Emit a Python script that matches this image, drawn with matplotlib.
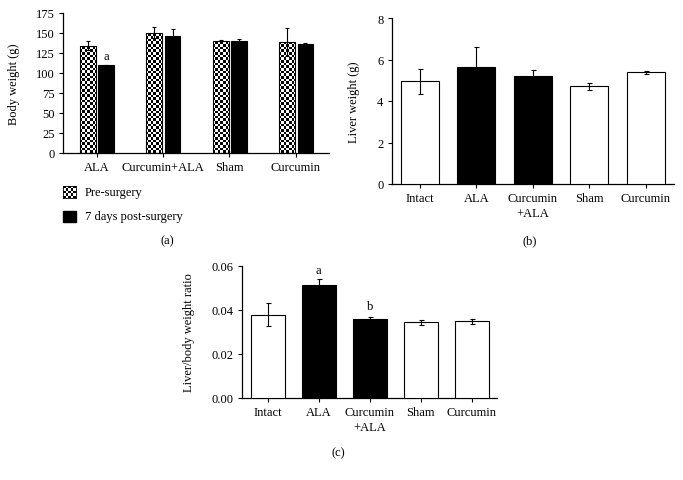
import numpy as np
import matplotlib
matplotlib.use('Agg')
import matplotlib.pyplot as plt
from matplotlib.patches import Rectangle

plt.rcParams['font.family'] = ['Liberation Serif', 'DejaVu Serif']
plt.rcParams['font.size'] = 9

# panel (a): body weight before / after surgery
groups_a = ['ALA', 'Curcumin+ALA', 'Sham', 'Curcumin']
pre_mean = [134, 150.5, 140.5, 139]
pre_err = [5.5, 6.5, 1, 17.5]
post_mean = [109.5, 146, 140, 136]
post_err = [1, 8.5, 3, 1.5]

# panel (b): liver weight
groups_bc = ['Intact', 'ALA', 'Curcumin\n+ALA', 'Sham', 'Curcumin']
liver_mean = [4.95, 5.65, 5.19, 4.71, 5.38]
liver_err = [0.59, 0.97, 0.29, 0.16, 0.08]

# panel (c): liver/body weight ratio
ratio_mean = [0.0378, 0.0513, 0.0357, 0.0343, 0.0348]
ratio_err = [0.0053, 0.0025, 0.001, 0.0013, 0.0011]

bar_colors = ['white', 'black', 'black', 'white', 'white']

W, H = 683, 481
fig = plt.figure(figsize=(W / 100, H / 100), dpi=100)


def px_axes(left, top, right, bottom):
    return fig.add_axes([left / W, 1 - bottom / H, (right - left) / W, (bottom - top) / H])


def style_axes(ax):
    for s in ['top', 'right']:
        ax.spines[s].set_visible(False)
    for s in ['left', 'bottom']:
        ax.spines[s].set_linewidth(0.9)
    ax.tick_params(axis='both', direction='out', length=3, width=0.8, pad=3)


def checker(nx, ny):
    return np.indices((ny, nx)).sum(axis=0) % 2


# ---------- (a)
ax_a = px_axes(63.3, 14, 329, 154)
style_axes(ax_a)
x = np.arange(len(groups_a))
bw = 0.235
pre_bars = ax_a.bar(x - 0.13, pre_mean, bw, facecolor='none', edgecolor='black', linewidth=0.8, zorder=3)
ax_a.bar(x + 0.145, post_mean, bw, color='black', edgecolor='black', linewidth=0.8, zorder=3)
ax_a.errorbar(x - 0.13, pre_mean, yerr=pre_err, fmt='none', ecolor='black', elinewidth=0.8, capsize=1.5, capthick=0.8, zorder=4)
ax_a.errorbar(x + 0.145, post_mean, yerr=post_err, fmt='none', ecolor='black', elinewidth=0.8, capsize=1.5, capthick=0.8, zorder=4)
ax_a.set_xlim(-0.5, 3.5)
ax_a.set_ylim(0, 175)
ax_a.set_yticks(range(0, 176, 25))
ax_a.set_xticks(x)
ax_a.set_xticklabels(groups_a)
ax_a.set_ylabel('Body weight (g)', fontsize=9)
ax_a.yaxis.set_label_coords(-0.163, 0.5)
ax_a.text(x[0] + 0.145, 114, 'a', ha='center', va='bottom', fontsize=9)

# checkerboard fill, clipped to each pre-surgery bar
img = checker(100, 53)
for b in pre_bars:
    im = ax_a.imshow(img, cmap='gray', interpolation='nearest', aspect='auto',
                     extent=(-0.5, 3.5, 0, 175), zorder=2)
    im.set_clip_path(b)
ax_a.set_xlim(-0.5, 3.5)
ax_a.set_ylim(0, 175)

# legend for (a)
sw = fig.add_axes([63.3 / W, 1 - 199 / H, 13 / W, 12 / H])
sw.imshow(checker(5, 5), cmap='gray', interpolation='nearest', aspect='auto')
sw.set_xticks([])
sw.set_yticks([])
for s in sw.spines.values():
    s.set_linewidth(0.6)
fig.patches.append(Rectangle((63.3 / W, 1 - 223 / H), 13 / W, 11 / H, transform=fig.transFigure,
                             facecolor='black', edgecolor='black'))
fig.text(85 / W, 1 - 193 / H, 'Pre-surgery', va='center', ha='left')
fig.text(85 / W, 1 - 217 / H, '7 days post-surgery', va='center', ha='left')
fig.text(167 / W, 1 - 241 / H, '(a)', va='center', ha='center')

# ---------- (b)
ax_b = px_axes(391.7, 19, 674, 185)
style_axes(ax_b)
xb = np.arange(len(groups_bc))
ax_b.bar(xb, liver_mean, 0.67, color=bar_colors, edgecolor='black', linewidth=0.8, zorder=3)
ax_b.errorbar(xb, liver_mean, yerr=liver_err, fmt='none', ecolor='black', elinewidth=0.8, capsize=1.8, capthick=0.8, zorder=4)
ax_b.set_xlim(-0.5, 4.5)
ax_b.set_ylim(0, 8)
ax_b.set_yticks(range(0, 9, 2))
ax_b.set_xticks(xb)
ax_b.set_xticklabels(groups_bc, linespacing=1.35)
ax_b.set_ylabel('Liver weight (g)', fontsize=9)
ax_b.yaxis.set_label_coords(-0.111, 0.5)
fig.text(530 / W, 1 - 241 / H, '(b)', va='center', ha='center')

# ---------- (c)
ax_c = px_axes(242.3, 266.7, 497.3, 399)
style_axes(ax_c)
ax_c.bar(xb, ratio_mean, 0.67, color=bar_colors, edgecolor='black', linewidth=0.8, zorder=3)
ax_c.errorbar(xb, ratio_mean, yerr=ratio_err, fmt='none', ecolor='black', elinewidth=0.8, capsize=1.8, capthick=0.8, zorder=4)
ax_c.set_xlim(-0.5, 4.5)
ax_c.set_ylim(0, 0.06)
ax_c.set_yticks([0, 0.02, 0.04, 0.06])
ax_c.set_yticklabels(['0.00', '0.02', '0.04', '0.06'])
ax_c.set_xticks(xb)
ax_c.set_xticklabels(groups_bc, linespacing=1.35)
ax_c.set_ylabel('Liver/body weight ratio', fontsize=9)
ax_c.yaxis.set_label_coords(-0.185, 0.5)
ax_c.text(xb[1], 0.0555, 'a', ha='center', va='bottom', fontsize=9)
ax_c.text(xb[2], 0.039, 'b', ha='center', va='bottom', fontsize=9)
fig.text(338 / W, 1 - 453 / H, '(c)', va='center', ha='center')

fig.savefig('out.png', dpi=100, facecolor='white')
